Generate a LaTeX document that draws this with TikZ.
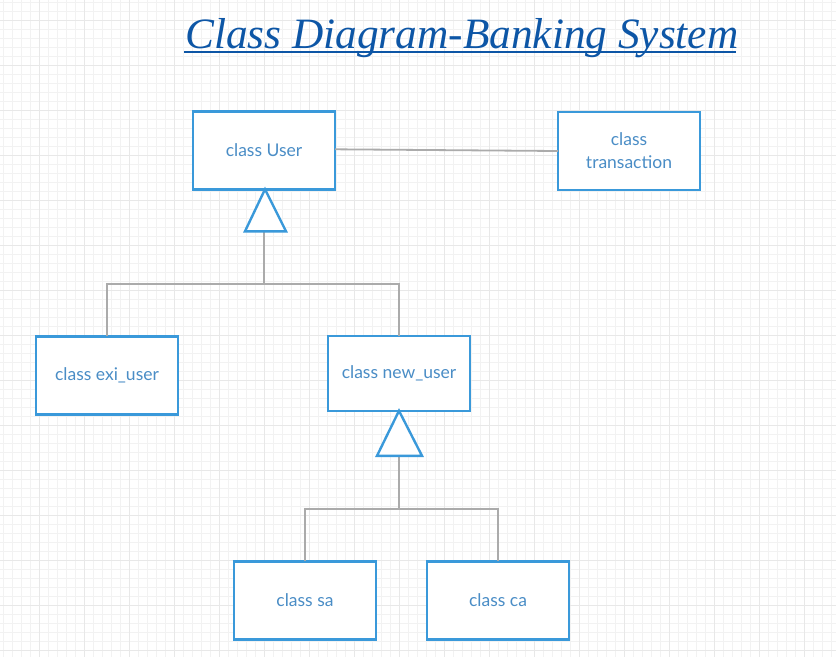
\documentclass[tikz,border=0pt]{standalone}
\usepackage{fontspec}
\setmainfont{Lato}
\newfontfamily\titlefont{Liberation Serif}
\begin{document}
\begin{tikzpicture}[x=1pt,y=-1pt,
  classbox/.style={draw=boxblue,line width=2.4pt,fill=white,minimum width=142pt,minimum height=78pt,
    inner sep=0pt,outer sep=0pt,text=txtblue,font=\fontsize{17.5}{23}\selectfont,align=center},
  conn/.style={draw=conngray,line width=1.8pt},
  tri/.style={draw=boxblue,line width=2.4pt,fill=white,line join=miter},
  minor/.style={draw=gridminor,line width=0.8pt},
  major/.style={draw=gridmajor,line width=0.9pt}]
\definecolor{boxblue}{HTML}{3A99DA}
\definecolor{txtblue}{HTML}{4A8DC6}
\definecolor{conngray}{HTML}{ABABAB}
\definecolor{gridminor}{HTML}{F2F2F2}
\definecolor{gridmajor}{HTML}{E8E8E8}
\definecolor{titleblue}{HTML}{0D56A6}
\useasboundingbox (0,0) rectangle (836,657);
\fill[white] (0,0) rectangle (836,657);
% grid
\foreach \i in {0,...,92} {\draw[minor] (3.3+9*\i,0) -- (3.3+9*\i,657);}
\foreach \i in {0,...,72} {\draw[minor] (0,2.3+9*\i) -- (836,2.3+9*\i);}
\foreach \i in {0,...,18} {\draw[major] (39.3+45*\i,0) -- (39.3+45*\i,657);}
\foreach \i in {0,...,14} {\draw[major] (0,20.3+45*\i) -- (836,20.3+45*\i);}
% title
\node[anchor=base west,inner sep=0pt,text=titleblue,font=\titlefont\itshape\fontsize{43.3}{50}\selectfont] (title) at (185,48) {Class Diagram-Banking System};
\draw[titleblue,line width=1.5pt] (184,52) -- (736,52);
% boxes
\node[classbox] (user) at (264,150.3) {class User};
\node[classbox] (trans) at (629,151) {class\\transaction};
\node[classbox] (exi) at (107,375.3) {class exi\_user};
\node[classbox,minimum height=75pt] (new) at (399,373.3) {class new\_user};
\node[classbox] (sa) at (305,600.3) {class sa};
\node[classbox] (ca) at (498,600.3) {class ca};
% association
\draw[conn] (user.east) ++(0,-1) coordinate (ua) -- (trans.west);
% generalization 1
\coordinate (t1) at ([yshift=-42pt]user.south);
\coordinate (j1) at ([yshift=-95pt]user.south);
\draw[conn] (t1) -- (j1);
\draw[conn] (exi.north) |- (j1) -| (new.north);
\draw[tri] ([xshift=1pt]user.south) -- ([xshift=-19pt]t1) -- ([xshift=22pt]t1) -- cycle;
% generalization 2
\coordinate (t2) at ([yshift=-45pt]new.south);
\coordinate (j2) at ([yshift=-98pt]new.south);
\draw[conn] (t2) -- (j2);
\draw[conn] (sa.north) |- (j2) -| (ca.north);
\draw[tri] (new.south) -- ([xshift=-22pt]t2) -- ([xshift=23pt]t2) -- cycle;
\end{tikzpicture}
\end{document}
